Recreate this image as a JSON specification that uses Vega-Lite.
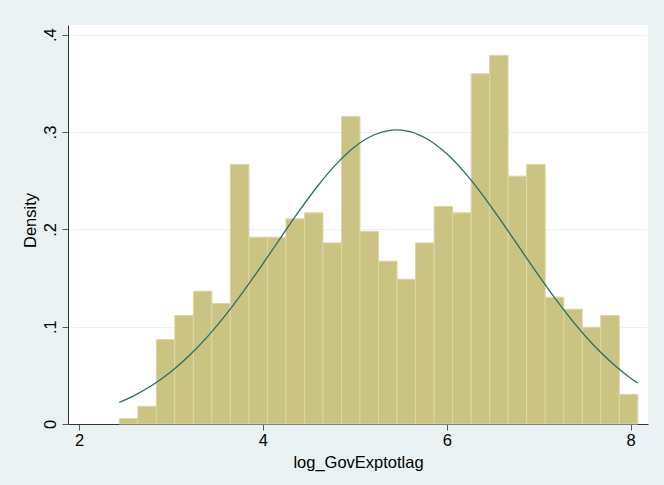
{
  "$schema": "https://vega.github.io/schema/vega-lite/v6.json",
  "width": 580,
  "height": 399,
  "autosize": {"type": "none"},
  "padding": {"left": 68, "top": 25, "right": 16, "bottom": 61},
  "background": "#eaf2f3",
  "config": {
    "font": "Liberation Sans",
    "view": {"fill": "#ffffff", "stroke": null}
  },
  "datasets": {
    "bins": [
      {"bin_start": 2.438, "bin_end": 2.639, "density": 0.0056},
      {"bin_start": 2.639, "bin_end": 2.841, "density": 0.0182},
      {"bin_start": 2.841, "bin_end": 3.042, "density": 0.0868},
      {"bin_start": 3.042, "bin_end": 3.244, "density": 0.1115},
      {"bin_start": 3.244, "bin_end": 3.445, "density": 0.1365},
      {"bin_start": 3.445, "bin_end": 3.646, "density": 0.1238},
      {"bin_start": 3.646, "bin_end": 3.848, "density": 0.2667},
      {"bin_start": 3.848, "bin_end": 4.049, "density": 0.192},
      {"bin_start": 4.049, "bin_end": 4.251, "density": 0.192},
      {"bin_start": 4.251, "bin_end": 4.452, "density": 0.2108},
      {"bin_start": 4.452, "bin_end": 4.653, "density": 0.217},
      {"bin_start": 4.653, "bin_end": 4.855, "density": 0.1861},
      {"bin_start": 4.855, "bin_end": 5.056, "density": 0.316},
      {"bin_start": 5.056, "bin_end": 5.258, "density": 0.198},
      {"bin_start": 5.258, "bin_end": 5.459, "density": 0.1673},
      {"bin_start": 5.459, "bin_end": 5.66, "density": 0.1488},
      {"bin_start": 5.66, "bin_end": 5.862, "density": 0.1861},
      {"bin_start": 5.862, "bin_end": 6.063, "density": 0.2235},
      {"bin_start": 6.063, "bin_end": 6.265, "density": 0.217},
      {"bin_start": 6.265, "bin_end": 6.466, "density": 0.3599},
      {"bin_start": 6.466, "bin_end": 6.667, "density": 0.3788},
      {"bin_start": 6.667, "bin_end": 6.869, "density": 0.2547},
      {"bin_start": 6.869, "bin_end": 7.07, "density": 0.2667},
      {"bin_start": 7.07, "bin_end": 7.272, "density": 0.1303},
      {"bin_start": 7.272, "bin_end": 7.473, "density": 0.118},
      {"bin_start": 7.473, "bin_end": 7.674, "density": 0.0994},
      {"bin_start": 7.674, "bin_end": 7.876, "density": 0.1115},
      {"bin_start": 7.876, "bin_end": 8.077, "density": 0.0305}
    ],
    "normal": [
      {"x": 2.438, "density": 0.0222},
      {"x": 2.6, "density": 0.0292},
      {"x": 2.8, "density": 0.04},
      {"x": 3.0, "density": 0.0536},
      {"x": 3.2, "density": 0.0703},
      {"x": 3.4, "density": 0.09},
      {"x": 3.6, "density": 0.1126},
      {"x": 3.8, "density": 0.1378},
      {"x": 4.0, "density": 0.1647},
      {"x": 4.2, "density": 0.1924},
      {"x": 4.4, "density": 0.2197},
      {"x": 4.6, "density": 0.2451},
      {"x": 4.8, "density": 0.2673},
      {"x": 5.0, "density": 0.2849},
      {"x": 5.2, "density": 0.2967},
      {"x": 5.4, "density": 0.302},
      {"x": 5.455, "density": 0.3023},
      {"x": 5.6, "density": 0.3005},
      {"x": 5.8, "density": 0.2921},
      {"x": 6.0, "density": 0.2776},
      {"x": 6.2, "density": 0.2578},
      {"x": 6.4, "density": 0.234},
      {"x": 6.6, "density": 0.2075},
      {"x": 6.8, "density": 0.1799},
      {"x": 7.0, "density": 0.1524},
      {"x": 7.2, "density": 0.1262},
      {"x": 7.4, "density": 0.1021},
      {"x": 7.6, "density": 0.0807},
      {"x": 7.8, "density": 0.0624},
      {"x": 8.0, "density": 0.0471},
      {"x": 8.077, "density": 0.0421}
    ]
  },
  "layer": [
    {
      "data": {"name": "bins"},
      "mark": {"type": "rect", "fill": "#cbc382", "stroke": "#dcd7a6", "strokeWidth": 1},
      "encoding": {
        "x": {
          "field": "bin_start",
          "type": "quantitative",
          "scale": {"domain": [1.8804, 8.188], "nice": false, "zero": false},
          "axis": {
            "values": [2, 4, 6, 8],
            "format": "d",
            "title": "log_GovExptotlag",
            "titleFontSize": 16.5,
            "titleFontWeight": "normal",
            "titleColor": "#000000",
            "titlePadding": 6,
            "labelFontSize": 16.5,
            "labelColor": "#000000",
            "labelPadding": 2,
            "tickSize": 6,
            "tickColor": "#555555",
            "domainColor": "#333333",
            "grid": false
          }
        },
        "x2": {"field": "bin_end"},
        "y": {
          "field": "density",
          "type": "quantitative",
          "scale": {"domain": [0, 0.41], "nice": false},
          "axis": {
            "values": [0, 0.1, 0.2, 0.3, 0.4],
            "labelExpr": "datum.value == 0 ? '0' : replace(format(datum.value, '.1f'), '0.', '.')",
            "title": "Density",
            "titleFontSize": 16.5,
            "titleFontWeight": "normal",
            "titleColor": "#000000",
            "titleAngle": -90,
            "titleAlign": "center",
            "titleBaseline": "alphabetic",
            "titleX": -33,
            "titleY": 195,
            "labelFontSize": 16.5,
            "labelColor": "#000000",
            "labelAngle": -90,
            "labelAlign": "center",
            "labelBaseline": "alphabetic",
            "labelPadding": 7,
            "tickSize": 6,
            "tickColor": "#555555",
            "domainColor": "#333333",
            "grid": true,
            "gridColor": "#eaf2f3",
            "gridWidth": 1.2
          }
        },
        "y2": {"datum": 0}
      }
    },
    {
      "data": {"name": "normal"},
      "mark": {"type": "line", "color": "#2a6d69", "strokeWidth": 1.3, "interpolate": "monotone"},
      "encoding": {
        "x": {"field": "x", "type": "quantitative"},
        "y": {"field": "density", "type": "quantitative"}
      }
    }
  ]
}
